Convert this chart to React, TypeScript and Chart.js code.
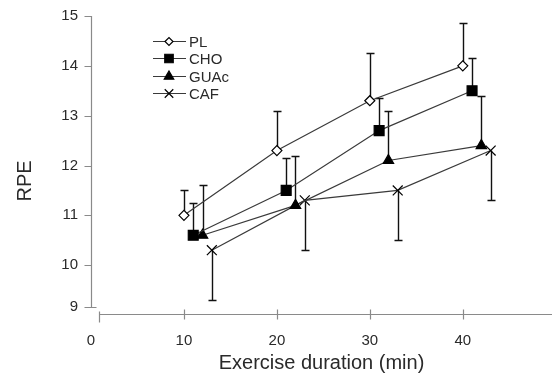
import React, { useEffect, useRef } from 'react';
import { Chart, registerables } from 'chart.js';
import { drawPoint } from 'chart.js/helpers';

Chart.register(...registerables);

// ---- data ----
const SERIES_NAMES = ['PL', 'CHO', 'GUAc', 'CAF'];
const PL_X = [10, 20, 30, 40];
const PL_Y = [11.0, 12.3, 13.3, 14.0];
const PL_ERR = [0.5, 0.8, 0.95, 0.85];
const CHO_X = [11, 21, 31, 41];
const CHO_Y = [10.6, 11.5, 12.7, 13.5];
const CHO_ERR = [0.65, 0.65, 0.65, 0.65];
const GUAC_X = [12, 22, 32, 42];
const GUAC_Y = [10.6, 11.2, 12.1, 12.4];
const GUAC_ERR = [1.0, 1.0, 1.0, 1.0];
const CAF_X = [13, 23, 33, 43];
const CAF_Y = [10.3, 11.3, 11.5, 12.3];
const CAF_ERR = [-1.0, -1.0, -1.0, -1.0]; // drawn downward
const X_TICKS = [0, 10, 20, 30, 40];
const Y_TICKS = [9, 10, 11, 12, 13, 14, 15];
const X_TITLE = 'Exercise duration (min)';
const Y_TITLE = 'RPE';
// broken-axis starts (the axes do not meet at the origin)
const X_AXIS_START = 0.85;
const Y_AXIS_START = 9.16;

const LINE_COLOR = '#3a3a3a';
const AXIS_COLOR = '#8a8a8a';
const TEXT_COLOR = '#2a2a2a';
const FONT = 'Liberation Sans, Arial, sans-serif';

export default function App() {
  const ref = useRef<HTMLCanvasElement>(null);

  useEffect(() => {
    const canvas = ref.current!;
    const styles: any[] = [
      { style: 'rectRot', radius: 5, fill: '#ffffff', legendR: 4 },
      { style: 'rect', radius: 7, fill: '#000000', legendR: 6 },
      { style: 'triangle', radius: 6, fill: '#000000', legendR: 5.5 },
      { style: 'crossRot', radius: 7, fill: '#000000', legendR: 6 },
    ];
    const xs = [PL_X, CHO_X, GUAC_X, CAF_X];
    const ys = [PL_Y, CHO_Y, GUAC_Y, CAF_Y];
    const errs = [PL_ERR, CHO_ERR, GUAC_ERR, CAF_ERR];

    const datasets = SERIES_NAMES.map((name, i) => ({
      label: name,
      data: xs[i].map((x, j) => ({ x, y: ys[i][j] })),
      showLine: true,
      borderColor: LINE_COLOR,
      borderWidth: 1.2,
      tension: 0,
      fill: false,
      pointStyle: styles[i].style,
      pointRadius: styles[i].radius,
      pointBackgroundColor: styles[i].fill,
      pointBorderColor: '#000000',
      pointBorderWidth: 1.2,
    }));

    const errorBars = {
      id: 'errorBars',
      beforeDatasetsDraw(chart: any) {
        const { ctx, scales } = chart;
        const x = scales.x, y = scales.y;
        ctx.save();
        ctx.strokeStyle = '#111111';
        ctx.lineWidth = 1.4;
        chart.data.datasets.forEach((ds: any, i: number) => {
          ds.data.forEach((p: any, j: number) => {
            const e = errs[i][j];
            const px = Math.round(x.getPixelForValue(p.x)) + 0.5;
            const y0 = y.getPixelForValue(p.y);
            const y1 = Math.round(y.getPixelForValue(p.y + e)) + 0.5;
            ctx.beginPath();
            ctx.moveTo(px, y0);
            ctx.lineTo(px, y1);
            ctx.moveTo(px - 4, y1);
            ctx.lineTo(px + 4, y1);
            ctx.stroke();
          });
        });
        ctx.restore();
      },
    };

    const axesAndLegend = {
      id: 'axesAndLegend',
      beforeDatasetsDraw(chart: any) {
        const { ctx, scales, chartArea } = chart;
        const x = scales.x, y = scales.y;
        ctx.save();
        ctx.strokeStyle = AXIS_COLOR;
        ctx.lineWidth = 1.2;
        // y axis
        const ax = Math.round(x.getPixelForValue(0)) + 0.5;
        const yTop = y.getPixelForValue(15);
        const yBot = Math.round(y.getPixelForValue(Y_AXIS_START)) + 0.5;
        ctx.beginPath();
        ctx.moveTo(ax, yTop);
        ctx.lineTo(ax, yBot);
        Y_TICKS.forEach((v) => {
          const py = Math.round(y.getPixelForValue(v === 9 ? Y_AXIS_START : v)) + 0.5;
          ctx.moveTo(ax - 7, py);
          ctx.lineTo(v === 9 ? ax + 5 : ax, py);
        });
        ctx.stroke();
        // x axis
        const ay = Math.round(y.getPixelForValue(9)) - 0.5;
        const xStart = Math.round(x.getPixelForValue(X_AXIS_START)) + 0.5;
        ctx.beginPath();
        ctx.moveTo(xStart, ay);
        ctx.lineTo(chartArea.right, ay);
        X_TICKS.forEach((v) => {
          const px = Math.round(x.getPixelForValue(v === 0 ? X_AXIS_START : v)) + 0.5;
          ctx.moveTo(px, ay - (v === 0 ? 3 : 5));
          ctx.lineTo(px, ay + (v === 0 ? 8 : 5));
        });
        ctx.stroke();
        // y title
        ctx.fillStyle = TEXT_COLOR;
        ctx.font = `20px ${FONT}`;
        ctx.textAlign = 'center';
        ctx.textBaseline = 'middle';
        ctx.translate(25, 181);
        ctx.rotate(-Math.PI / 2);
        ctx.fillText(Y_TITLE, 0, 0);
        ctx.restore();

        // legend
        ctx.save();
        chart.data.datasets.forEach((ds: any, i: number) => {
          const ly = Math.round(40.5 + i * 17.5) + 0.5;
          ctx.strokeStyle = LINE_COLOR;
          ctx.lineWidth = 1.2;
          ctx.beginPath();
          ctx.moveTo(153, ly);
          ctx.lineTo(186, ly);
          ctx.stroke();
          ctx.fillStyle = ds.pointBackgroundColor;
          ctx.strokeStyle = '#000000';
          ctx.lineWidth = 1.2;
          drawPoint(ctx, { pointStyle: ds.pointStyle, radius: styles[i].legendR, rotation: 0, borderWidth: 1.2 } as any, 169, ly);
          ctx.fillStyle = TEXT_COLOR;
          ctx.font = `15px ${FONT}`;
          ctx.textAlign = 'left';
          ctx.textBaseline = 'middle';
          ctx.fillText(ds.label, 189, ly + 1);
        });
        ctx.restore();
      },
    };

    const zeroPad = (s: any) => {
      s.paddingTop = 0;
      s.paddingBottom = 0;
      s.paddingLeft = 0;
      s.paddingRight = 0;
    };

    const chart = new Chart(canvas, {
      type: 'scatter',
      data: { datasets: datasets as any },
      options: {
        animation: false,
        responsive: true,
        maintainAspectRatio: false,
        devicePixelRatio: 1,
        layout: { autoPadding: false, padding: { top: 16, right: 0, left: 0, bottom: 0 } },
        plugins: { legend: { display: false }, tooltip: { enabled: false } },
        scales: {
          x: {
            type: 'linear',
            min: 0,
            max: 49.6,
            afterFit: (s: any) => { s.height = 64; zeroPad(s); },
            afterBuildTicks: (s: any) => { s.ticks = X_TICKS.map((v) => ({ value: v })); },
            grid: { display: false, drawTicks: false },
            border: { display: false },
            ticks: {
              color: TEXT_COLOR,
              font: { family: FONT, size: 15 },
              padding: 17,
              maxRotation: 0,
              autoSkip: false,
              callback: (v: any) => String(Math.round(Number(v))),
            },
            title: {
              display: true,
              text: X_TITLE,
              color: TEXT_COLOR,
              font: { family: FONT, size: 20 },
              padding: { top: 0, bottom: 4 },
            },
          },
          y: {
            type: 'linear',
            min: 9,
            max: 15,
            afterFit: (s: any) => { s.width = 91; zeroPad(s); },
            afterBuildTicks: (s: any) => {
              s.ticks = Y_TICKS.map((v) => ({ value: v === 9 ? Y_AXIS_START : v }));
            },
            grid: { display: false, drawTicks: false },
            border: { display: false },
            ticks: {
              color: TEXT_COLOR,
              font: { family: FONT, size: 15 },
              padding: 13,
              autoSkip: false,
              callback: (v: any) => String(Math.round(Number(v))),
            },
          },
        },
      },
      plugins: [axesAndLegend, errorBars],
    });
    return () => chart.destroy();
  }, []);

  return (
    <div style={{ position: 'absolute', left: 0, top: 0, width: 552, height: 379, background: '#fff' }}>
      <canvas ref={ref} />
    </div>
  );
}
